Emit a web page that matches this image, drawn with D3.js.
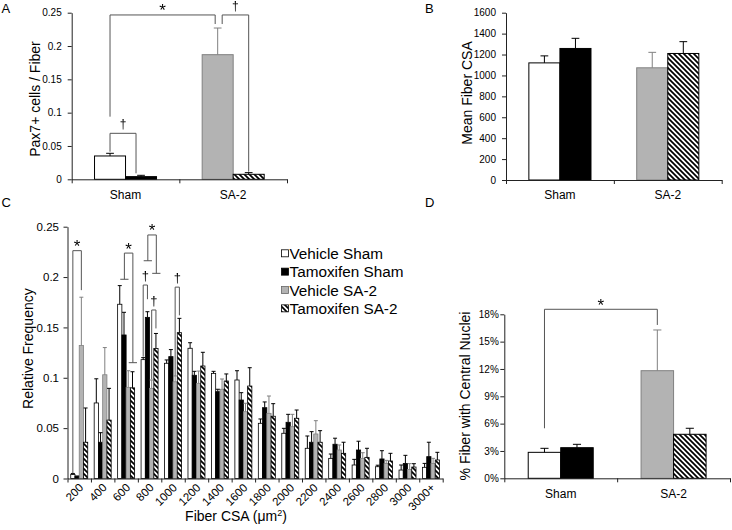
<!DOCTYPE html>
<html><head><meta charset="utf-8">
<script src="https://cdn.jsdelivr.net/npm/d3@7"></script>
<style>
body{margin:0;background:#fff}
svg{display:block}
.sig{filter:grayscale(100%)}
</style>
</head><body>
<script>
// ================= DATA =================
const seriesNames = ["Vehicle Sham", "Tamoxifen Sham", "Vehicle SA-2", "Tamoxifen SA-2"];
const groups = ["Sham", "SA-2"];           // series 0,1 -> Sham ; series 2,3 -> SA-2

// Panel A : Pax7+ cells / fiber (mean, +SE)
const pax7Mean  = [0.035, 0.004, 0.187, 0.0075];
const pax7Err   = [0.004, 0.002, 0.040, 0.0025];
const pax7Ticks = [0, 0.05, 0.1, 0.15, 0.2, 0.25];

// Panel B : Mean fiber CSA
const csaMean  = [1120, 1258, 1073, 1210];
const csaErr   = [67, 97, 148, 113];
const csaTicks = [0, 200, 400, 600, 800, 1000, 1200, 1400, 1600];

// Panel D : % fiber with central nuclei
const cnMean  = [2.85, 3.36, 11.81, 4.83];
const cnErr   = [0.44, 0.37, 4.47, 0.66];
const cnTicks = [0, 3, 6, 9, 12, 15, 18];

// Panel C : fiber CSA distribution (relative frequency)
const bins = ["200","400","600","800","1000","1200","1400","1600","1800","2000","2200","2400","2600","2800","3000","3000+"];
const freqVS  = [0.004, 0.075, 0.173, 0.118, 0.1144, 0.1293, 0.1044, 0.0978, 0.0548, 0.0449, 0.030, 0.020, 0.0134, 0.0117, 0.0084, 0.0111];
const errVS   = [0.001, 0.024, 0.0185, 0.002, 0.0033, 0.0055, 0.002, 0.0092, 0.0043, 0.0049, 0.0122, 0.0043, 0.0056, 0.0015, 0.005, 0.0039];
const freqTS  = [0.002, 0.036, 0.1425, 0.160, 0.121, 0.1025, 0.0862, 0.0779, 0.0703, 0.0558, 0.036, 0.034, 0.0283, 0.0194, 0.015, 0.0217];
const errTS   = [0.0005, 0.0095, 0.0225, 0.0056, 0.007, 0.0039, 0.0024, 0.0073, 0.0057, 0.0079, 0.0105, 0.006, 0.0087, 0.0082, 0.008, 0.0143];
const freqVSA = [0.132, 0.103, 0.0905, 0.0895, 0.096, 0.0945, 0.0886, 0.0663, 0.0647, 0.0514, 0.0442, 0.0283, 0.020, 0.015, 0.009, 0.015];
const errVSA  = [0.048, 0.027, 0.0165, 0.0083, 0.0058, 0.0122, 0.0102, 0.0084, 0.0172, 0.0123, 0.0132, 0.005, 0.0056, 0.003, 0.0058, 0.005];
const freqTSA = [0.036, 0.058, 0.090, 0.129, 0.1448, 0.1117, 0.0968, 0.0918, 0.0618, 0.0598, 0.036, 0.025, 0.021, 0.0174, 0.0114, 0.0184];
const errTSA  = [0.034, 0.0315, 0.016, 0.015, 0.0142, 0.0136, 0.007, 0.0182, 0.0125, 0.0082, 0.0115, 0.011, 0.009, 0.0076, 0.0033, 0.0076];
const freqTicks = [0, 0.05, 0.1, 0.15, 0.2, 0.25];

// significance annotations (values in data units)
const sigA = [
  {label:"*", a:0, b:2, top:0.2466, yA:0.094, yB:0.233},
  {label:"\u2020", a:2, b:3, top:0.2466, yA:0.233, yB:0.0114},
  {label:"\u2020", a:0, b:1, top:0.069, yA:0.0414, yB:0.009}
];
const sigD = [
  {label:"*", a:0, b:2, top:18.55, yA:5.49, yB:16.83}
];
const sigC = [
  {type:"leg",  label:"*", bin:0, a:0, b:2, top:0.2262, yA:0.005, yB:0.187},
  {type:"pair", label:"*", bin:2, top:0.2238, yA:0.1978, yB:0.115},
  {type:"pair", label:"*", bin:3, top:0.2418, yA:0.2162, yB:0.2037},
  {type:"leg",  label:"\u2020", bin:3, a:0, b:1, top:0.1921, yA:0.121, yB:0.178},
  {type:"leg",  label:"\u2020", bin:3, a:2, b:3, top:0.1673, yA:0.0985, yB:0.149},
  {type:"leg",  label:"\u2020", bin:4, a:2, b:3, top:0.190, yA:0.102, yB:0.162}
];

// ================= STYLE =================
const FONT = '"Liberation Sans", Arial, Helvetica, sans-serif';
const fills   = ["#ffffff", "#000000", "#b3b3b3", "url(#hatch)"];
const strokes = ["#000000", "#000000", "#808080", "#000000"];
const errCol  = ["#000000", "#000000", "#808080", "#000000"];
const AXIS = "#222";
const BRK = "#555";

const svg = d3.select("body").append("svg").attr("width", 732).attr("height", 530)
  .attr("font-family", FONT);

const defs = svg.append("defs");
const P = 5;
const pat = defs.append("pattern").attr("id", "hatch").attr("patternUnits", "userSpaceOnUse")
  .attr("width", P).attr("height", P);
pat.append("rect").attr("width", P).attr("height", P).attr("fill", "#fff");
pat.append("path").attr("d", `M-1,-1L${P + 1},${P + 1}M-1,${P - 1}L1,${P + 1}M${P - 1},-1L${P + 1},1`)
  .attr("stroke", "#000").attr("stroke-width", 1.7);

function styleAxis(sel, fs) {
  sel.attr("font-family", FONT).attr("font-size", fs);
  sel.select(".domain").attr("stroke", AXIS);
  sel.selectAll(".tick line").attr("stroke", AXIS);
  sel.selectAll(".tick text").attr("fill", "#000");
}

function sigLabel(g, label, x, yTop, fsStar, fsDag) {
  const t = g.append("text").attr("class", "sig").attr("x", x).attr("text-anchor", "middle")
    .attr("fill", "#000").text(label);
  if (label === "*") t.attr("y", yTop + 1.5).attr("font-size", fsStar);
  else t.attr("y", yTop - 5).attr("font-size", fsDag);
}

// ---------- generic 2x2 grouped bar panel (A, B, D) ----------
function pairPanel(o) {
  const g = svg.append("g");
  const y = d3.scaleLinear().domain(o.domain).range([o.yB, o.yT]);
  const xg = d3.scaleBand().domain(groups).range([o.x0, o.x1]);
  const xs = d3.scaleBand().domain([0, 1]).range([0, xg.bandwidth()]).paddingOuter(0.736);
  const bw = xs.bandwidth();
  const data = o.mean.map((m, i) => ({i, m, e: o.err[i], grp: groups[Math.floor(i / 2)], j: i % 2}));
  const bx = d => xg(d.grp) + xs(d.j);
  const cx = i => xg(groups[Math.floor(i / 2)]) + xs(i % 2) + bw / 2;

  g.selectAll("rect.bar").data(data).join("rect").attr("class", "bar")
    .attr("x", bx).attr("y", d => y(d.m)).attr("width", bw).attr("height", d => y(0) - y(d.m))
    .attr("fill", d => fills[d.i]).attr("stroke", d => strokes[d.i]).attr("stroke-width", 1);

  const cap = bw * 0.25;
  g.selectAll("path.err").data(data).join("path").attr("class", "err")
    .attr("d", d => `M${cx(d.i)},${y(d.m)}V${y(d.m + d.e)}M${cx(d.i) - cap / 2},${y(d.m + d.e)}H${cx(d.i) + cap / 2}`)
    .attr("stroke", d => errCol[d.i]).attr("fill", "none");

  // axes
  const yAx = g.append("g").attr("transform", `translate(${o.x0},0)`)
    .call(d3.axisLeft(y).tickValues(o.ticks).tickFormat(o.fmt).tickSize(4).tickSizeOuter(0).tickPadding(o.pad));
  styleAxis(yAx, 10);
  const xi = d3.scaleLinear().domain([0, groups.length]).range([o.x0, o.x1]);
  const xAx = g.append("g").attr("transform", `translate(0,${o.yB})`)
    .call(d3.axisBottom(xi).tickValues(d3.range(groups.length + 1)).tickFormat("").tickSize(4).tickSizeOuter(0));
  styleAxis(xAx, 10);

  g.selectAll("text.cat").data(groups).join("text").attr("class", "cat")
    .attr("x", d => xg(d) + xg.bandwidth() / 2).attr("y", o.catY).attr("text-anchor", "middle")
    .attr("font-size", 12).text(d => d);

  g.append("text").attr("transform", `translate(${o.ylx},${o.yly}) rotate(-90)`)
    .attr("text-anchor", "middle").attr("dy", "0.35em").attr("font-size", 14).text(o.ylabel);

  (o.sig || []).forEach(s => {
    const xa = cx(s.a) + (s.na || 0), xb = cx(s.b) + (s.nb || 0);
    g.append("path").attr("d", `M${xa},${y(s.yA)}V${y(s.top)}H${xb}V${y(s.yB)}`)
      .attr("stroke", BRK).attr("fill", "none");
    sigLabel(g, s.label, (xa + xb) / 2, y(s.top), 17, 12);
  });
}

// nudges so that the two brackets at SA-2 in panel A do not share a leg
sigA[0].nb = -2.5; sigA[1].na = 4.5; sigA[2].nb = -5;

pairPanel({x0: 71.7, x1: 287, yB: 179.3, yT: 12.7, domain: [0, 0.25], ticks: pax7Ticks,
  fmt: d3.format("~g"), pad: 6, mean: pax7Mean, err: pax7Err, catY: 199,
  ylabel: "Pax7+ cells / Fiber", ylx: 35, yly: 99, sig: sigA});
pairPanel({x0: 506, x1: 721.7, yB: 180, yT: 12.7, domain: [0, 1600], ticks: csaTicks,
  fmt: d3.format("d"), pad: 6, mean: csaMean, err: csaErr, catY: 199,
  ylabel: "Mean Fiber CSA", ylx: 467, yly: 93});
pairPanel({x0: 504.3, x1: 730, yB: 478.3, yT: 314.3, domain: [0, 18], ticks: cnTicks,
  fmt: d => d + "%", pad: 1.5, mean: cnMean, err: cnErr, catY: 497.5,
  ylabel: "% Fiber with Central Nuclei", ylx: 465, yly: 396, sig: sigD});

// ---------- Panel C ----------
(function () {
  const g = svg.append("g");
  const x0 = 67.5, x1 = 442.7, yB = 478.5, yT = 226.7;
  const y = d3.scaleLinear().domain([0, 0.25]).range([yB, yT]);
  const xb = d3.scaleBand().domain(bins).range([x0, x1]);
  const xs = d3.scaleBand().domain(d3.range(4)).range([0, xb.bandwidth()]).paddingOuter(0.76);
  const bw = xs.bandwidth();
  const means = [freqVS, freqTS, freqVSA, freqTSA];
  const errs = [errVS, errTS, errVSA, errTSA];
  const data = [];
  bins.forEach((b, k) => means.forEach((arr, s) => data.push({b, k, s, m: arr[k], e: errs[s][k]})));
  const cx = (k, s) => xb(bins[k]) + xs(s) + bw / 2;

  g.selectAll("rect.bar").data(data).join("rect").attr("class", "bar")
    .attr("x", d => xb(d.b) + xs(d.s)).attr("y", d => y(d.m)).attr("width", bw)
    .attr("height", d => y(0) - y(d.m))
    .attr("fill", d => fills[d.s]).attr("stroke", d => strokes[d.s]).attr("stroke-width", 0.8);

  const cap = 4;
  g.selectAll("path.err").data(data).join("path").attr("class", "err")
    .attr("d", d => { const c = cx(d.k, d.s); return `M${c},${y(d.m)}V${y(d.m + d.e)}M${c - cap / 2},${y(d.m + d.e)}H${c + cap / 2}`; })
    .attr("stroke", d => errCol[d.s]).attr("fill", "none");

  const yAx = g.append("g").attr("transform", `translate(${x0},0)`)
    .call(d3.axisLeft(y).tickValues(freqTicks).tickFormat(d3.format("~g")).tickSize(4).tickSizeOuter(0).tickPadding(4.5));
  styleAxis(yAx, 11.5);
  const xi = d3.scaleLinear().domain([0, bins.length]).range([x0, x1]);
  const xAx = g.append("g").attr("transform", `translate(0,${yB})`)
    .call(d3.axisBottom(xi).tickValues(d3.range(bins.length + 1)).tickFormat("").tickSize(4).tickSizeOuter(0));
  styleAxis(xAx, 11);

  g.selectAll("text.bin").data(bins).join("text").attr("class", "bin")
    .attr("transform", d => `translate(${xb(d) + xb.bandwidth() / 2 + 2},${yB + 7}) rotate(-45)`)
    .attr("text-anchor", "end").attr("dy", "0.35em").attr("font-size", 11.5).text(d => d);

  const xl = g.append("text").attr("x", 236).attr("y", 521).attr("text-anchor", "middle").attr("font-size", 14);
  xl.append("tspan").text("Fiber CSA (\u03bcm");
  xl.append("tspan").attr("dy", -5).attr("font-size", 9).text("2");
  xl.append("tspan").attr("dy", 5).text(")");

  g.append("text").attr("transform", `translate(28.5,${(yB + yT) / 2 - 4}) rotate(-90)`)
    .attr("text-anchor", "middle").attr("dy", "0.35em").attr("font-size", 14).text("Relative Frequency");

  // significance brackets
  sigC.forEach(s => {
    const k = s.bin;
    let d, lx;
    if (s.type === "leg") {
      const xa = cx(k, s.a), xb2 = cx(k, s.b);
      d = `M${xa},${y(s.yA)}V${y(s.top)}H${xb2}V${y(s.yB)}`;
      lx = (xa + xb2) / 2;
    } else {
      const n = 2.5;
      const l0 = cx(k, 0) - 2 + n, l1 = cx(k, 1) + 2 + n, lm = (l0 + l1) / 2;
      const r0 = cx(k, 2) - 2 + n, r1 = cx(k, 3) + 2 + n, rm = (r0 + r1) / 2;
      d = `M${l0},${y(s.yA)}H${l1}M${lm},${y(s.yA)}V${y(s.top)}H${rm}V${y(s.yB)}M${r0},${y(s.yB)}H${r1}`;
      lx = (lm + rm) / 2;
    }
    g.append("path").attr("d", d).attr("stroke", BRK).attr("fill", "none");
    sigLabel(g, s.label, lx, y(s.top), 17, 13);
  });

  // legend
  const lg = g.append("g");
  seriesNames.forEach((nm, i) => {
    const yy = 253.3 + i * 18.35;
    lg.append("rect").attr("x", 281.5).attr("y", yy - 3.5).attr("width", 7).attr("height", 7)
      .attr("fill", fills[i]).attr("stroke", strokes[i] === "#808080" ? "#666" : "#000").attr("stroke-width", 0.8);
    lg.append("text").attr("x", 289.5).attr("y", yy).attr("dy", "0.36em").attr("font-size", 15.3).text(nm);
  });
})();

// panel letters
[["A", 1.5, 13], ["B", 425, 13], ["C", 1.5, 207], ["D", 425, 207]].forEach(([t, x, y]) =>
  svg.append("text").attr("x", x).attr("y", y).attr("font-size", 13).text(t));
</script>
</body></html>
